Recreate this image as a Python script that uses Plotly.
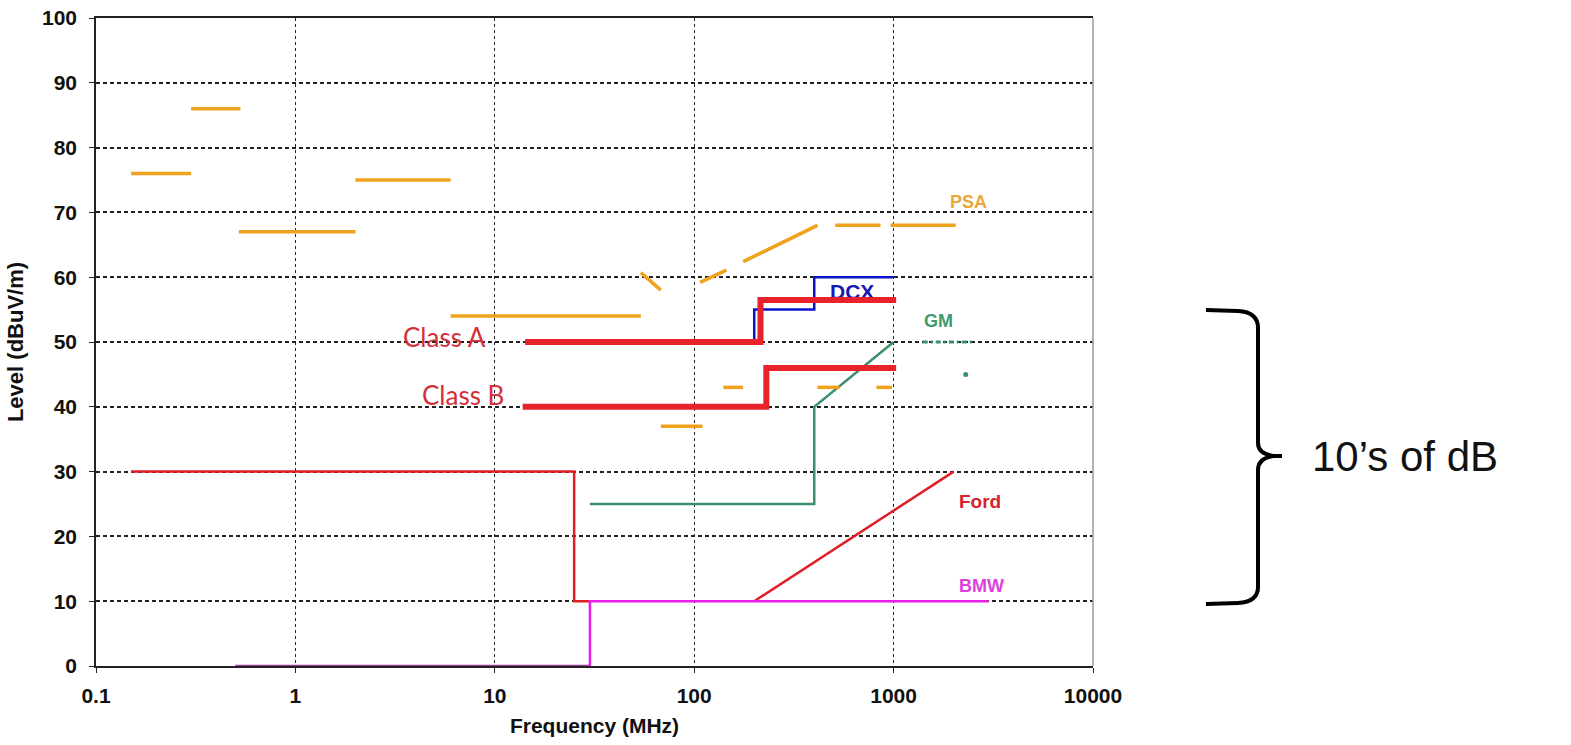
import math
import plotly.graph_objects as go

# ---------------- data (frequency in MHz, level in dBuV/m) ----------------
psa_f = [0.15, 0.3, None, 0.3, 0.53, None, 0.52, 2.0, None, 2.0, 6.0, None,
         6.0, 54, None, 54, 68, None, 107, 145, None, 176, 415, None,
         510, 860, None, 965, 2050, None, 140, 176, None, 415, 535, None,
         820, 980, None, 68, 110]
psa_y = [76, 76, None, 86, 86, None, 67, 67, None, 75, 75, None,
         54, 54, None, 60.7, 58, None, 59.2, 61.1, None, 62.4, 68, None,
         68, 68, None, 68, 68, None, 43, 43, None, 43, 43, None,
         43, 43, None, 37, 37]

dcx_f = [200, 200, 400, 400, 1000]
dcx_y = [50, 55, 55, 60, 60]

gm_f = [30, 400, 400, 1000]
gm_y = [25, 25, 40, 50]
gm_dot_f = [1400, 2500]
gm_dot_y = [50, 50]
gm_pt_f = [2300]
gm_pt_y = [45]

ford_f = [0.15, 25, 25, 30, None, 200, 2000]
ford_y = [30, 30, 10, 10, None, 10, 30]

bmw0_f = [0.5, 30]
bmw0_y = [0, 0]
bmw_f = [30, 30, 3000]
bmw_y = [0, 10, 10]

classA_f = [14.2, 215, 215, 1030]
classA_y = [50, 50, 56.5, 56.5]
classB_f = [13.8, 230, 230, 1030]
classB_y = [40, 40, 46, 46]

x_ticks = [0.1, 1, 10, 100, 1000, 10000]
x_ticktext = ["0.1", "1", "10", "100", "1000", "10000"]
y_ticks = [0, 10, 20, 30, 40, 50, 60, 70, 80, 90, 100]

# label positions (MHz, dB)
labels = [
    ("PSA", 2370, 71.6, "#E9A93A", 18),
    ("GM", 1680, 53.2, "#3C9A6E", 18),
    ("Ford", 2700, 25.4, "#D8232C", 19),
    ("BMW", 2750, 12.3, "#DD3EDD", 18),
]
class_labels = [("Class A", 5.6, 50.7), ("Class B", 6.9, 41.8)]
dcx_label = ("DCX", 620, 57.4)

# ---------------- figure ----------------
ORANGE = "#F0A11E"
fig = go.Figure()

fig.add_trace(go.Scatter(x=gm_f, y=gm_y, mode="lines",
                         line=dict(color="#3A9068", width=2.5)))
fig.add_trace(go.Scatter(x=gm_dot_f, y=gm_dot_y, mode="lines",
                         line=dict(color="#3A9068", width=3, dash="5px,3px,2px,3px")))
fig.add_trace(go.Scatter(x=gm_pt_f, y=gm_pt_y, mode="markers",
                         marker=dict(color="#3A9068", size=5)))
fig.add_trace(go.Scatter(x=[dcx_label[1]], y=[dcx_label[2]], mode="text",
                         text=[dcx_label[0]],
                         textfont=dict(family="Liberation Sans, Arial", size=21,
                                       color="#1818B8", weight="bold")))
fig.add_trace(go.Scatter(x=dcx_f, y=dcx_y, mode="lines",
                         line=dict(color="#0A14C8", width=2.5)))
fig.add_trace(go.Scatter(x=psa_f, y=psa_y, mode="lines",
                         line=dict(color=ORANGE, width=3.5)))
fig.add_trace(go.Scatter(x=ford_f, y=ford_y, mode="lines",
                         line=dict(color="#E01E26", width=2.5)))
fig.add_trace(go.Scatter(x=bmw0_f, y=bmw0_y, mode="lines",
                         line=dict(color="#9A3A9A", width=2.5)))
fig.add_trace(go.Scatter(x=bmw_f, y=bmw_y, mode="lines",
                         line=dict(color="#E81EE8", width=2.5)))
fig.add_trace(go.Scatter(x=classA_f, y=classA_y, mode="lines",
                         line=dict(color="#E8222A", width=6)))
fig.add_trace(go.Scatter(x=classB_f, y=classB_y, mode="lines",
                         line=dict(color="#E8222A", width=6)))

annotations = []
for txt, f, yv, col, sz in labels:
    annotations.append(dict(x=math.log10(f), y=yv, xref="x", yref="y", text=txt,
                            showarrow=False, xanchor="center", yanchor="middle",
                            font=dict(family="Liberation Sans, Arial", size=sz,
                                      color=col, weight="bold")))
for txt, f, yv in class_labels:
    annotations.append(dict(x=math.log10(f), y=yv, xref="x", yref="y", text=txt,
                            showarrow=False, xanchor="center", yanchor="middle",
                            font=dict(family="Lato, Open Sans", size=26, color="#D4303A")))

W, H = 1571, 745
# plot-area geometry in page pixels
L, R, T, B = 96, 1093, 18, 666
def px(xp):
    return (xp - L) / (R - L)
def py(yp):
    return (B - yp) / (B - T)

def pth(cmds):
    out = []
    for c in cmds:
        op = c[0]
        pts = c[1:]
        out.append(op + " " + " ".join(f"{px(a):.4f},{py(b):.4f}" for a, b in pts))
    return " ".join(out)

brace = pth([
    ("M", (1206, 310)), ("L", (1238, 311)), ("Q", (1258, 312), (1258, 328)),
    ("L", (1258, 443)), ("Q", (1258, 454), (1274, 456)), ("L", (1282, 456)),
    ("M", (1274, 456)), ("Q", (1258, 458), (1258, 470)),
    ("L", (1258, 587)), ("Q", (1258, 602), (1238, 603)), ("L", (1206, 604)),
])

annotations.append(dict(x=px(1310), y=py(456), xref="paper", yref="paper",
                        text="10’s of dB", showarrow=False, xanchor="left",
                        yanchor="middle",
                        font=dict(family="Liberation Sans, Arial", size=42, color="#111111")))

shapes = [
    dict(type="path", path=brace, xref="paper", yref="paper",
         line=dict(color="black", width=4)),
    dict(type="line", x0=1, x1=1, y0=0, y1=1, xref="paper", yref="paper",
         line=dict(color="#9a9a9a", width=1.5), layer="above"),
]

tickfont = dict(family="Liberation Sans, Arial", size=21, color="#111111", weight="bold")

fig.update_layout(
    width=W, height=H,
    margin=dict(l=L, r=W - R, t=T, b=H - B),
    paper_bgcolor="white", plot_bgcolor="white",
    showlegend=False,
    annotations=annotations,
    shapes=shapes,
    xaxis=dict(type="log", range=[-1, 4], tickvals=x_ticks, ticktext=x_ticktext,
               automargin=False, ticklabeloverflow="allow",
               showgrid=True, gridcolor="#222222", gridwidth=1.3, griddash="3px,3px",
               showline=True, linecolor="#222222", linewidth=2, mirror=True,
               ticks="outside", ticklen=5, tickcolor="#222222",
               tickfont=tickfont, ticklabelstandoff=5, zeroline=False,
               title=dict(text="Frequency (MHz)", standoff=12,
                          font=dict(family="Liberation Sans, Arial", size=21,
                                    color="#111111", weight="bold"))),
    yaxis=dict(range=[0, 100], tickvals=y_ticks, automargin=False,
               ticklabeloverflow="allow",
               showgrid=True, gridcolor="#222222", gridwidth=1.5, griddash="4px,3px",
               showline=True, linecolor="#222222", linewidth=1.5,
               ticks="outside", ticklen=5, tickcolor="#222222",
               tickfont=tickfont, ticklabelstandoff=8, zeroline=False,
               title=dict(text="Level (dBuV/m)", standoff=12,
                          font=dict(family="Liberation Sans, Arial", size=22,
                                    color="#111111", weight="bold"))),
)

fig.write_html("out.html", config={"displayModeBar": False},
               post_script="document.body.style.margin='0';")
